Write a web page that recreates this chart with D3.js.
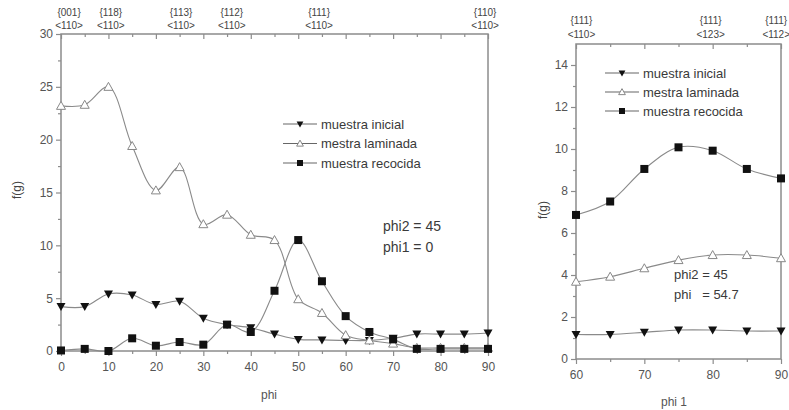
<!DOCTYPE html>
<html>
<head>
<meta charset="utf-8">
<script src="https://cdn.jsdelivr.net/npm/d3@7"></script>
<style>
  body { margin: 0; background: #fff; }
  svg { font-family: "Liberation Sans", Arial, sans-serif; }
</style>
</head>
<body>
<svg id="chart" width="789" height="410"></svg>
<script>
// left panel: phi2 = 45, phi1 = 0
var phiL = [0, 5, 10, 15, 20, 25, 30, 35, 40, 45, 50, 55, 60, 65, 70, 75, 80, 85, 90];
var inicialL = [4.2, 4.2, 5.4, 5.3, 4.4, 4.7, 3.1, 2.5, 2.2, 1.6, 1.1, 1.05, 1.0, 1.0, 1.2, 1.6, 1.6, 1.6, 1.7];
var laminadaL = [23.2, 23.3, 25.0, 19.4, 15.2, 17.4, 12.0, 12.9, 11.0, 10.5, 4.9, 3.6, 1.5, 1.0, 0.7, 0.3, 0.3, 0.3, 0.3];
var recocidaL = [0.05, 0.2, 0.0, 1.2, 0.5, 0.85, 0.6, 2.5, 1.8, 5.7, 10.5, 6.6, 3.3, 1.8, 1.1, 0.2, 0.2, 0.2, 0.2];
var topPosL = [1.7, 10.5, 25.3, 36, 54.4, 89.4];
var topPlaneL = ["{001}", "{118}", "{113}", "{112}", "{111}", "{110}"];
var topDirL = ["<110>", "<110>", "<110>", "<110>", "<110>", "<110>"];

// right panel: phi2 = 45, phi = 54.7
var phiR = [60, 65, 70, 75, 80, 85, 90];
var inicialR = [1.17, 1.17, 1.27, 1.38, 1.38, 1.33, 1.33];
var laminadaR = [3.68, 3.92, 4.32, 4.71, 4.95, 4.95, 4.8];
var recocidaR = [6.86, 7.5, 9.05, 10.08, 9.92, 9.05, 8.6];
var topPosR = [60.8, 79.7, 89.3];
var topPlaneR = ["{111}", "{111}", "{111}"];
var topDirR = ["<110>", "<123>", "<112>"];

var seriesNames = ["muestra inicial", "mestra laminada", "muestra recocida"];
var seriesKinds = ["down", "open", "square"];

var svg = d3.select("#chart");
var axisCol = "#8c8c8c", lineCol = "#8a8a8a", textCol = "#3a3a3a";

function marker(g, kind, x, y, s) {
  s = s || 1;
  var a = 4.5 * s, b = 3.5 * s;
  if (kind === "down") {
    g.append("path").attr("d", "M" + (x - a) + "," + (y - b) + "L" + (x + a) + "," + (y - b) + "L" + x + "," + (y + a) + "Z")
      .attr("fill", "#111");
  } else if (kind === "open") {
    g.append("path").attr("d", "M" + (x - a) + "," + (y + b) + "L" + (x + a) + "," + (y + b) + "L" + x + "," + (y - a) + "Z")
      .attr("fill", "#fff").attr("stroke", "#888").attr("stroke-width", 1);
  } else {
    g.append("rect").attr("x", x - 4 * s).attr("y", y - 4 * s).attr("width", 8 * s).attr("height", 8 * s).attr("fill", "#111");
  }
}

function panel(opt) {
  var x = d3.scaleLinear().domain(opt.xDomain).range([opt.left, opt.right]);
  var y = d3.scaleLinear().domain(opt.yDomain).range([opt.bottom, opt.top]);
  var g = svg.append("g");

  // box
  g.append("rect").attr("x", opt.left).attr("y", opt.top)
    .attr("width", opt.right - opt.left).attr("height", opt.bottom - opt.top)
    .attr("fill", "none").attr("stroke", axisCol).attr("stroke-width", 1.5);

  // bottom axis
  g.append("g").attr("transform", "translate(0," + opt.bottom + ")")
    .call(d3.axisBottom(x).tickValues(opt.xTicks).tickSize(5).tickPadding(6));
  g.append("g").attr("transform", "translate(0," + opt.bottom + ")")
    .call(d3.axisBottom(x).tickValues(opt.xMinor).tickSize(3).tickFormat(""));
  // left axis
  g.append("g").attr("transform", "translate(" + opt.left + ",0)")
    .call(d3.axisLeft(y).tickValues(opt.yTicks).tickSize(5).tickPadding(3));
  g.append("g").attr("transform", "translate(" + opt.left + ",0)")
    .call(d3.axisLeft(y).tickValues(opt.yMinor).tickSize(3).tickFormat(""));
  // top axis, ticks inward
  g.append("g").attr("transform", "translate(0," + opt.top + ")")
    .call(d3.axisBottom(x).tickValues(opt.xTicks).tickSize(5).tickFormat(""));
  g.append("g").attr("transform", "translate(0," + opt.top + ")")
    .call(d3.axisBottom(x).tickValues(opt.xMinor).tickSize(3).tickFormat(""));

  g.selectAll(".domain").remove();
  g.selectAll(".tick line").attr("stroke", axisCol).attr("stroke-width", 1.2);
  g.selectAll(".tick text").attr("fill", "#555").attr("font-size", 12)
    .attr("font-family", "Liberation Sans, Arial, sans-serif");

  // series
  var sets = [opt.inicial, opt.laminada, opt.recocida];
  var line = d3.line().x(function (d) { return x(d[0]); }).y(function (d) { return y(d[1]); })
    .curve(d3.curveCatmullRom.alpha(0.5));
  sets.forEach(function (vals, i) {
    var pts = opt.phi.map(function (p, j) { return [p, vals[j]]; });
    g.append("path").datum(pts).attr("d", line)
      .attr("fill", "none").attr("stroke", lineCol).attr("stroke-width", 1.1);
  });
  sets.forEach(function (vals, i) {
    opt.phi.forEach(function (p, j) { marker(g, seriesKinds[i], x(p), y(vals[j])); });
  });

  // legend
  seriesNames.forEach(function (name, i) {
    var ly = opt.legY + i * opt.legStep;
    g.append("line").attr("x1", opt.legX).attr("x2", opt.legX + 34)
      .attr("y1", ly).attr("y2", ly).attr("stroke", "#666").attr("stroke-width", 1.1);
    marker(g, seriesKinds[i], opt.legX + 17, ly, 0.75);
    g.append("text").attr("x", opt.legX + 38).attr("y", ly + 4.5)
      .attr("font-size", 13).attr("fill", textCol).text(name);
  });

  // annotation
  opt.note.forEach(function (t, i) {
    g.append("text").attr("x", opt.noteX).attr("y", opt.noteY + i * opt.noteStep)
      .attr("font-size", opt.noteSize).attr("fill", textCol)
      .attr("xml:space", "preserve").style("white-space", "pre").text(t);
  });

  // top labels
  opt.topPos.forEach(function (p, i) {
    g.append("text").attr("x", x(p)).attr("y", opt.topY1).attr("text-anchor", "middle")
      .attr("font-size", 10).attr("fill", "#444").text(opt.topPlane[i]);
    g.append("text").attr("x", x(p)).attr("y", opt.topY2).attr("text-anchor", "middle")
      .attr("font-size", 10).attr("fill", "#444").text(opt.topDir[i]);
  });

  // axis titles
  g.append("text").attr("x", opt.xLabX).attr("y", opt.xLabY).attr("text-anchor", "middle")
    .attr("font-size", 12).attr("fill", "#555").text(opt.xLabel);
  g.append("text").attr("transform", "translate(" + opt.yLabX + "," + opt.yLabY + ") rotate(-90)")
    .attr("text-anchor", "middle").attr("font-size", 12).attr("fill", "#444").text("f(g)");
}

panel({
  xDomain: [0, 90], yDomain: [0, 30],
  left: 61, right: 488, top: 34, bottom: 351,
  xTicks: d3.range(0, 91, 10), xMinor: d3.range(5, 90, 10),
  yTicks: d3.range(0, 31, 5), yMinor: d3.range(2.5, 30, 5),
  phi: phiL, inicial: inicialL, laminada: laminadaL, recocida: recocidaL,
  legX: 283, legY: 124, legStep: 19.5,
  note: ["phi2 = 45", "phi1 = 0"], noteX: 383, noteY: 231, noteStep: 21, noteSize: 14,
  topPos: topPosL, topPlane: topPlaneL, topDir: topDirL, topY1: 16, topY2: 29,
  xLabel: "phi", xLabX: 269, xLabY: 399, yLabX: 21, yLabY: 190
});

panel({
  xDomain: [60, 90], yDomain: [0, 15],
  left: 576, right: 781, top: 44, bottom: 359,
  xTicks: [60, 70, 80, 90], xMinor: [65, 75, 85],
  yTicks: d3.range(0, 15, 2), yMinor: d3.range(1, 15, 2),
  phi: phiR, inicial: inicialR, laminada: laminadaR, recocida: recocidaR,
  legX: 605, legY: 73, legStep: 19,
  note: ["phi2 = 45", "phi   = 54.7"], noteX: 674, noteY: 279, noteStep: 20, noteSize: 13,
  topPos: topPosR, topPlane: topPlaneR, topDir: topDirR, topY1: 24, topY2: 38,
  xLabel: "phi 1", xLabX: 674, xLabY: 406, yLabX: 547, yLabY: 210
});
</script>
</body>
</html>
